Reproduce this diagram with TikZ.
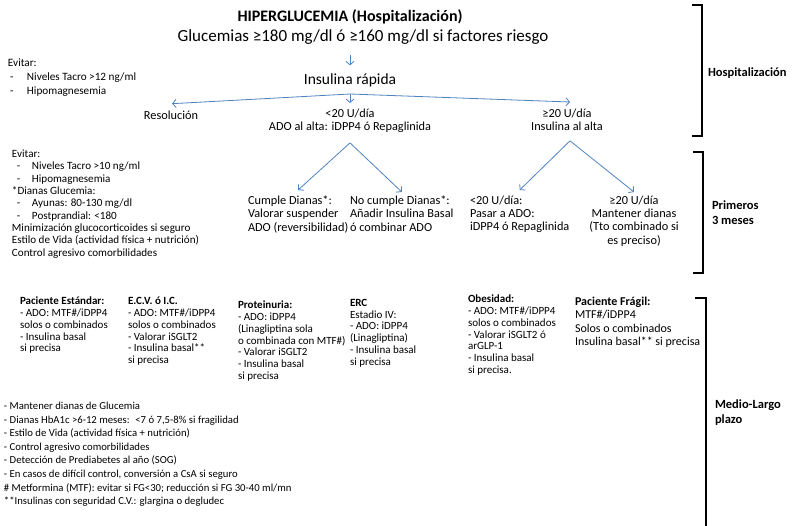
\documentclass[tikz,border=0pt]{standalone}
\usepackage{fontspec}
\setmainfont{Carlito}
\usetikzlibrary{arrows.meta}
\definecolor{arrowblue}{RGB}{79,129,189}
\newcommand{\dsh}[2]{\hspace*{#1}\makebox[#2][l]{-}}
\begin{document}
\begin{tikzpicture}[x=1pt,y=-1pt,
  t/.style={inner sep=0pt, outer sep=0pt},
  arr/.style={draw=arrowblue, line width=0.8pt, -{Straight Barb[length=3.5pt,width=8pt]}},
  brk/.style={draw=black, line width=1.6pt},
  midtxt/.style={t, font=\fontsize{12.3}{13.2}\selectfont},
  smalltxt/.style={t, font=\fontsize{11.1}{12.3}\selectfont, align=left, anchor=north west},
  coltxt/.style={t, font=\fontsize{11}{11.8}\selectfont, align=left, anchor=north west},
  lbl/.style={t, font=\bfseries\fontsize{12.5}{14.5}\selectfont, align=left, anchor=north west}
]
\useasboundingbox (0,0) rectangle (792,525);

% ---- top
\node[t, font=\bfseries\fontsize{16}{18}\selectfont] (title) at (350,17) {HIPERGLUCEMIA (Hospitalización)};
\node[t, font=\fontsize{17}{20}\selectfont] (gluc) at (363,37) {Glucemias ≥180 mg/dl ó ≥160 mg/dl si factores riesgo};
\node[t, font=\fontsize{15.5}{18}\selectfont] (ins) at (350,80) {Insulina rápida};
\draw[arr] ([yshift=18pt]ins.north) -- ([yshift=8pt]ins.north);

\node[midtxt] (res) at (171,115) {Resolución};
\node[midtxt, align=center, anchor=north] (mid) at (350,109) {<20 U/día\\ADO al alta: iDPP4 ó Repaglinida};
\node[midtxt, align=center, anchor=north] (right) at (567,109) {≥20 U/día\\Insulina al alta};

\coordinate (split) at (350,94);
\draw[arr] (split) -- ([yshift=7pt]res.north -| 172,0);
\draw[arr] (split) -- ([yshift=6pt]mid.north);
\draw[arr] (split) -- ([yshift=7pt]right.north -| 570,0);

\node[smalltxt, font=\fontsize{11.2}{13.8}\selectfont] (ev1) at (8,59) {Evitar:\\\dsh{2pt}{17pt}Niveles Tacro >12 ng/ml\\\dsh{2pt}{17pt}Hipomagnesemia};

% ---- primeros 3 meses
\node[midtxt, align=left, anchor=north west] (cumple) at (248,196) {Cumple Dianas*:\\Valorar suspender\\ADO (reversibilidad)};
\node[midtxt, align=left, anchor=north west] (nocumple) at (350,196) {No cumple Dianas*:\\Añadir Insulina Basal\\ó combinar ADO};
\node[midtxt, align=left, anchor=north west] (pasar) at (470,196) {<20 U/día:\\Pasar a ADO:\\iDPP4 ó Repaglinida};
\node[midtxt, align=center, anchor=north] (mant) at (634,196) {≥20 U/día\\Mantener dianas\\(Tto combinado si\\es preciso)};

\coordinate (s2) at ([yshift=-10pt]mid.south);
\coordinate (s3) at ([yshift=-10pt]right.south -| 570,0);
\draw[arr] (s2) -- ([yshift=6pt]cumple.north);
\draw[arr] (s2) -- ([yshift=4pt]nocumple.north);
\draw[arr] (s3) -- ([yshift=6pt]pasar.north);
\draw[arr] (s3) -- ([yshift=4pt]mant.north);

\node[smalltxt] (ev2) at (12,150) {Evitar:\\\dsh{5pt}{15pt}Niveles Tacro >10 ng/ml\\\dsh{5pt}{15pt}Hipomagnesemia\\*Dianas Glucemia:\\\dsh{5pt}{15pt}Ayunas: 80-130 mg/dl\\\dsh{5pt}{15pt}Postprandial: <180\\Minimización glucocorticoides si seguro\\Estilo de Vida (actividad física + nutrición)\\Control agresivo comorbilidades};

% ---- medio-largo plazo
\node[coltxt] (c1) at (20,297) {\textbf{Paciente Estándar:}\\- ADO: MTF\#/iDPP4\\solos o combinados\\- Insulina basal\\si precisa};
\node[coltxt] (c2) at (128,297) {\textbf{E.C.V. ó I.C.}\\- ADO: MTF\#/iDPP4\\solos o combinados\\- Valorar iSGLT2\\- Insulina basal**\\si precisa};
\node[coltxt] (c3) at (238,301) {\textbf{Proteinuria:}\\- ADO: iDPP4\\(Linagliptina sola\\o combinada con MTF\#)\\- Valorar iSGLT2\\- Insulina basal\\si precisa};
\node[coltxt] (c4) at (350,299) {\textbf{ERC}\\Estadio IV:\\- ADO: iDPP4\\(Linagliptina)\\- Insulina basal\\si precisa};
\node[coltxt] (c5) at (468,295) {\textbf{Obesidad:}\\- ADO: MTF\#/iDPP4\\solos o combinados\\- Valorar iSGLT2 ó\\arGLP-1\\- Insulina basal\\si precisa.};
\node[coltxt, font=\fontsize{12}{13.3}\selectfont] (c6) at (575,297) {\textbf{Paciente Frágil:}\\MTF\#/iDPP4\\Solos o combinados\\Insulina basal** si precisa};

\node[smalltxt, font=\fontsize{10.7}{13.6}\selectfont] (notes) at (4,402) {- Mantener dianas de Glucemia\\- Dianas HbA1c >6-12 meses:~ <7 ó 7,5-8\% si fragilidad\\- Estilo de Vida (actividad física + nutrición)\\- Control agresivo comorbilidades\\- Detección de Prediabetes al año (SOG)\\- En casos de difícil control, conversión a CsA si seguro\\\# Metformina (MTF): evitar si FG<30; reducción si FG 30-40 ml/mn\\**Insulinas con seguridad C.V.: glargina o degludec};

% ---- brackets
\draw[brk] (692,5) -- (702,5) -- (702,136) -- (692,136);
\draw[brk] (693,152) -- (703,152) -- (703,273) -- (693,273);
\draw[brk] (695,298) -- (706,298) -- (706,530);
\node[lbl, anchor=west] (lh) at (708,73) {Hospitalización};
\node[lbl] (lp) at (712,201) {Primeros\\3 meses};
\node[lbl] (lm) at (715,400) {Medio-Largo\\plazo};
\end{tikzpicture}
\end{document}
